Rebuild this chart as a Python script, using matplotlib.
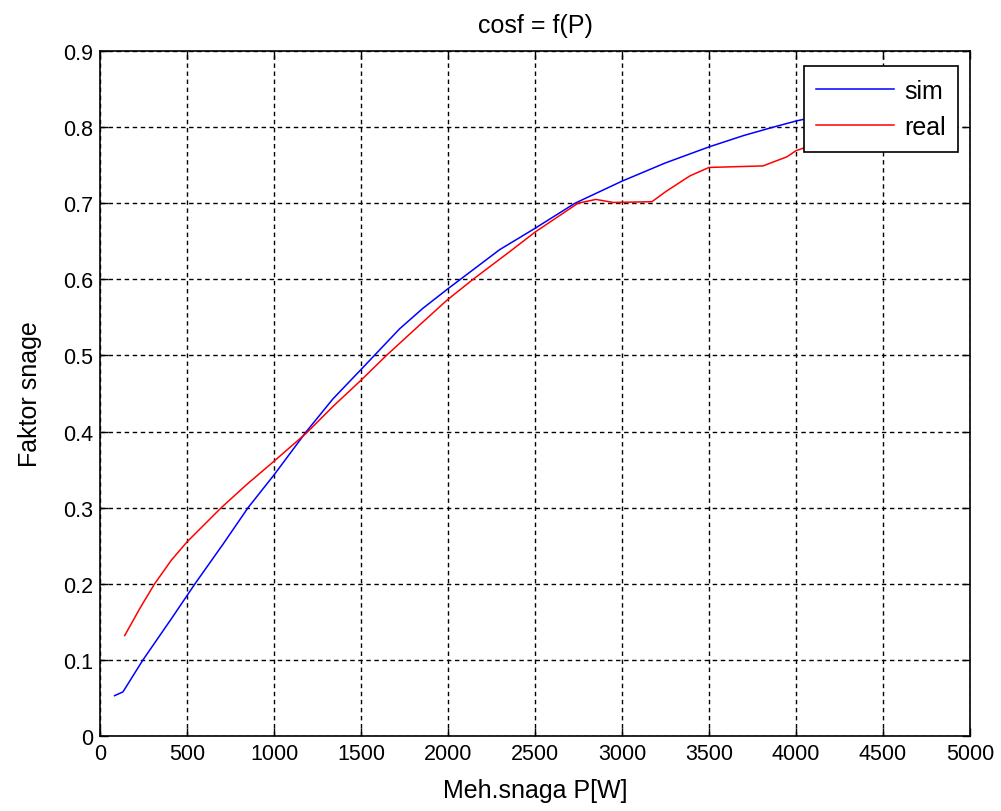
import matplotlib
matplotlib.use("Agg")
import matplotlib.pyplot as plt

# --- data ---
sim_P = [84, 132, 247, 410, 546, 707, 851, 1000, 1186, 1339, 1498, 1722,
         1856, 1996, 2297, 2500, 2730, 3000, 3250, 3500, 3700, 3870, 4000, 4100]
sim_v = [0.053, 0.058, 0.100, 0.154, 0.200, 0.252, 0.300, 0.343, 0.400, 0.443,
         0.481, 0.535, 0.562, 0.587, 0.639, 0.667, 0.700, 0.729, 0.753, 0.774,
         0.789, 0.800, 0.808, 0.813]

real_P = [142, 230, 314, 410, 500, 697, 841, 1000, 1186, 1339, 1498, 1646,
          1837, 1996, 2144, 2364, 2500, 2747, 2850, 2950, 3172, 3256, 3391,
          3500, 3810, 3948, 4000, 4100]
real_v = [0.132, 0.168, 0.200, 0.231, 0.255, 0.300, 0.330, 0.361, 0.398, 0.433,
          0.467, 0.500, 0.540, 0.573, 0.600, 0.638, 0.662, 0.700, 0.705, 0.701,
          0.702, 0.716, 0.736, 0.747, 0.749, 0.761, 0.769, 0.777]

x_ticks = [0, 500, 1000, 1500, 2000, 2500, 3000, 3500, 4000, 4500, 5000]
y_ticks = [0, 0.1, 0.2, 0.3, 0.4, 0.5, 0.6, 0.7, 0.8, 0.9]
y_tick_labels = ["0", "0.1", "0.2", "0.3", "0.4", "0.5", "0.6", "0.7", "0.8", "0.9"]

title = "cosf = f(P)"
xlabel = "Meh.snaga P[W]"
ylabel = "Faktor snage"

plt.rcParams['font.family'] = ['Liberation Sans', 'DejaVu Sans']

fig = plt.figure(figsize=(10.01, 8.12), dpi=100)
ax = fig.add_axes([100 / 1001, 1 - 737 / 812, 870 / 1001, 685 / 812])

ax.plot(sim_P, sim_v, color=(0, 0, 1), lw=1.1, label="sim", zorder=3)
ax.plot(real_P, real_v, color=(1, 0, 0), lw=1.1, label="real", zorder=3)

ax.set_xlim(0, 5000)
ax.set_ylim(0, 0.9)
ax.set_xticks(x_ticks)
ax.set_xticklabels([str(t) for t in x_ticks])
ax.set_yticks(y_ticks)
ax.set_yticklabels(y_tick_labels)

ax.grid(True, color='black', linestyle=(0, (3.2, 2.6)), linewidth=1.0)
ax.set_axisbelow(True)
ax.tick_params(direction='in', length=6, width=1, top=True, right=True,
               labelsize=15.5, pad=5)
for s in ax.spines.values():
    s.set_linewidth(1.2)
    s.set_color('black')

ax.set_title(title, fontsize=18, pad=14)
ax.set_xlabel(xlabel, fontsize=18, labelpad=10)
ax.set_ylabel(ylabel, fontsize=18, labelpad=15)

leg = ax.legend(loc='upper right', bbox_to_anchor=(0.9862, 0.978),
                fontsize=18, frameon=True, fancybox=False, framealpha=1,
                edgecolor='black', handlelength=3.1, handletextpad=0.4,
                labelspacing=0.5, borderpad=0.5, borderaxespad=0)
leg.get_frame().set_linewidth(1.2)

fig.savefig("out.png", dpi=100)
